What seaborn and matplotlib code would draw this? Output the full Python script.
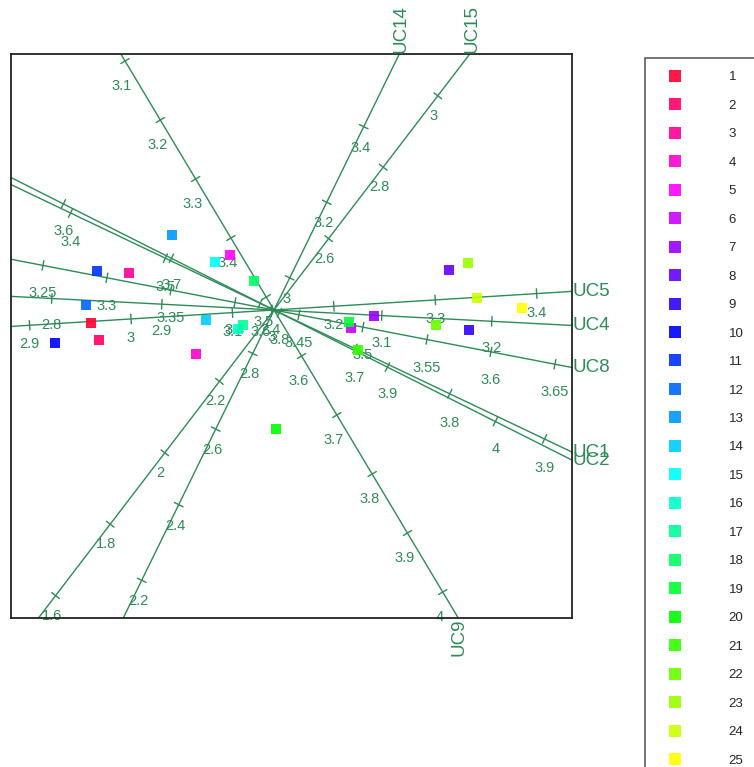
import numpy as np
import pandas as pd
import matplotlib
matplotlib.use("Agg")
import matplotlib.pyplot as plt
import seaborn as sns

# Genotype scores on the first two biplot dimensions
genotypes = [str(i) for i in range(1, 26)]
dim1 = [-1.83, -1.75, -1.45, -0.78, -0.44, 0.77, 1.00, 1.75, 1.95, -2.19,
        -1.77, -1.88, -1.02, -0.68, -0.59, -0.36, -0.31, -0.20, 0.75, 0.02,
        0.84, 1.62, 1.94, 2.03, 2.48]
dim2 = [-0.13, -0.30, 0.37, -0.44, 0.55, -0.18, -0.06, 0.40, -0.20, -0.33,
        0.39, 0.05, 0.75, -0.10, 0.48, -0.19, -0.15, 0.29, -0.12, -1.19,
        -0.40, -0.15, 0.47, 0.12, 0.02]
genotype_colors = ["#FF0033", "#FF0066", "#FF0099", "#FF00CC", "#FF00FF",
                   "#CC00FF", "#9900FF", "#6600FF", "#3300FF", "#0000FF",
                   "#0033FF", "#0066FF", "#0099FF", "#00CCFF", "#00FFFF",
                   "#00FFCC", "#00FF99", "#00FF66", "#00FF33", "#00FF00",
                   "#33FF00", "#66FF00", "#99FF00", "#CCFF00", "#FFFF00"]

# Calibrated trait axes: displacement per unit of trait value, trait mean
# (value at the biplot origin) and calibration step
traits = ["UC1", "UC2", "UC4", "UC5", "UC8", "UC9", "UC14", "UC15"]
calib_dx = [9.48, 10.80, 11.00, 10.14, 12.80, 3.53, 1.85, 2.73]
calib_dy = [-4.52, -5.44, -0.57, 0.634, -2.47, -5.90, 3.78, 3.57]
trait_means = [3.6146, 3.795, 3.002, 3.141, 3.4305, 3.522, 2.915, 2.4]
tick_steps = [0.1, 0.1, 0.1, 0.1, 0.05, 0.1, 0.2, 0.2]

# label placement relative to each tick (plot units)
label_shift = {"UC1": (0.0, -0.29), "UC2": (0.0, -0.27), "UC4": (0.0, -0.27),
               "UC5": (0.0, -0.19), "UC8": (0.0, -0.28), "UC9": (-0.03, -0.25),
               "UC14": (-0.03, -0.21), "UC15": (-0.04, -0.20)}

GREEN = "#2E8B57"
XLIM = (-2.63, 2.98)
YLIM = (-3.08, 2.56)

sns.set_style("white")
plt.rcParams["font.family"] = ["Liberation Sans", "DejaVu Sans"]

fig = plt.figure(figsize=(7.54, 7.67), dpi=100)
ax = fig.add_axes([11 / 754, (767 - 618) / 767, 561 / 754, 564 / 767])
ax.set_xlim(*XLIM)
ax.set_ylim(*YLIM)

for trait, dx, dy, mean, step in zip(traits, calib_dx, calib_dy,
                                     trait_means, tick_steps):
    d = np.array([dx, dy])
    u = d / np.linalg.norm(d)
    # parameter range of the axis line inside the plotting box
    lo, hi = -np.inf, np.inf
    for comp, (a, b) in ((u[0], XLIM), (u[1], YLIM)):
        if abs(comp) > 1e-12:
            t1, t2 = sorted((a / comp, b / comp))
            lo, hi = max(lo, t1), min(hi, t2)
    p0, p1 = lo * u, hi * u
    ax.plot([p0[0], p1[0]], [p0[1], p1[1]], color=GREEN, lw=1.0, zorder=1)

    # tick marks and calibration labels
    perp = np.array([-u[1], u[0]]) * 0.048
    vmin = mean + lo / np.linalg.norm(d)
    vmax = mean + hi / np.linalg.norm(d)
    first = np.ceil(vmin / step - 1e-9) * step
    vals = np.arange(first, vmax + 1e-9, step)
    sx, sy = label_shift[trait]
    for v in vals:
        p = (v - mean) * d
        ax.plot([p[0] - perp[0], p[0] + perp[0]],
                [p[1] - perp[1], p[1] + perp[1]], color=GREEN, lw=1.0, zorder=1)
        ax.text(p[0] + sx, p[1] + sy, f"{round(v, 2):g}", color=GREEN,
                fontsize=10.5, ha="center", va="center", zorder=2)

    # trait name at the high-value end of the axis
    if np.isclose(p1[1], YLIM[1]):
        ax.text(p1[0] + 0.02, p1[1] + 0.01, trait, color=GREEN, fontsize=13.5,
                rotation=90, rotation_mode="anchor", ha="left", va="center",
                clip_on=False)
    elif np.isclose(p1[1], YLIM[0]):
        ax.text(p1[0] + 0.01, p1[1] - 0.01, trait, color=GREEN, fontsize=13.5,
                rotation=90, rotation_mode="anchor", ha="right", va="center",
                clip_on=False)
    else:
        ax.text(p1[0] + 0.01, p1[1], trait, color=GREEN, fontsize=13.5,
                ha="left", va="center", clip_on=False)

df = pd.DataFrame({"genotype": genotypes, "dim1": dim1, "dim2": dim2})
sns.scatterplot(data=df, x="dim1", y="dim2", hue="genotype",
                hue_order=genotypes, palette=dict(zip(genotypes, genotype_colors)),
                marker="s", s=60, linewidth=0, alpha=0.9, ax=ax, zorder=3)

ax.set_xlabel("")
ax.set_ylabel("")
ax.set_xticks([])
ax.set_yticks([])
for sp in ax.spines.values():
    sp.set_visible(True)
    sp.set_color("#222222")
    sp.set_linewidth(1.3)

sns.move_legend(ax, "upper left", bbox_to_anchor=(645 / 754, 1 - 58 / 767),
                bbox_transform=fig.transFigure, title=None, frameon=True,
                fontsize=9.5, labelspacing=1.23, handlelength=2.55,
                handletextpad=2.8, borderpad=1.0, borderaxespad=0,
                fancybox=False, markerscale=1.05)
leg = ax.get_legend()
leg.get_frame().set_edgecolor("#333333")
leg.get_frame().set_linewidth(1.2)

fig.savefig("out.png", dpi=100, facecolor="white")
